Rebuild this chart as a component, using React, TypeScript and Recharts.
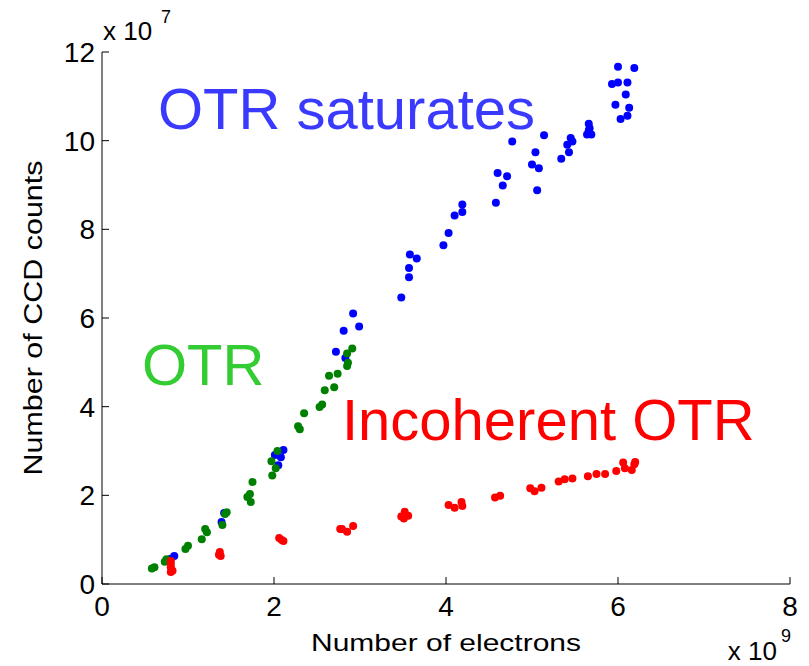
import { ReferenceDot, Scatter, ScatterChart, XAxis, YAxis } from "recharts";

// units: x in 1e9 electrons, y in 1e7 CCD counts
const BLUE: [number, number][] = [
  [0.8, 0.57], [0.84, 0.63], [1.39, 1.4], [1.42, 1.6], [2.01, 2.91], [2.05, 2.68],
  [2.08, 2.86], [2.11, 3.02], [2.72, 5.24], [2.83, 5.1], [2.81, 5.71], [2.92, 6.1],
  [2.99, 5.81], [3.48, 6.46], [3.57, 6.92], [3.57, 7.13], [3.58, 7.43], [3.66, 7.34],
  [3.97, 7.64], [4.03, 7.92], [4.1, 8.31], [4.19, 8.39], [4.19, 8.56], [4.58, 8.6],
  [4.6, 9.27], [4.66, 8.99], [4.71, 9.2], [4.77, 9.98], [5.0, 9.46], [5.04, 9.74],
  [5.08, 9.38], [5.06, 8.88], [5.14, 10.12], [5.34, 9.59], [5.43, 9.74], [5.41, 9.91],
  [5.45, 10.06], [5.47, 9.98], [5.64, 10.14], [5.66, 10.38], [5.67, 10.28], [5.69, 10.14],
  [5.66, 10.23], [5.93, 11.28], [6.0, 11.67], [6.0, 11.31], [6.11, 11.31], [6.19, 11.64],
  [5.97, 10.81], [6.09, 11.04], [6.13, 10.74], [6.03, 10.49], [6.11, 10.56],
];

const GREEN: [number, number][] = [
  [0.58, 0.35], [0.61, 0.38], [0.73, 0.5], [0.75, 0.56], [0.97, 0.79], [1.0, 0.86],
  [1.16, 1.01], [1.2, 1.24], [1.22, 1.17], [1.4, 1.33], [1.43, 1.58], [1.45, 1.62],
  [1.69, 1.96], [1.72, 2.03], [1.73, 1.85], [1.75, 2.3], [1.97, 2.77], [1.98, 2.45],
  [2.02, 2.61], [2.04, 3.0], [2.28, 3.56], [2.3, 3.49], [2.35, 3.85], [2.53, 3.99],
  [2.56, 4.05], [2.59, 4.37], [2.7, 4.44], [2.64, 4.7], [2.74, 4.74], [2.85, 4.92],
  [2.86, 4.99], [2.85, 5.2], [2.91, 5.31],
];

const RED: [number, number][] = [
  [0.8, 0.52], [0.8, 0.45], [0.8, 0.38], [0.8, 0.27], [0.82, 0.3], [1.37, 0.72],
  [1.38, 0.63], [1.36, 0.66], [2.06, 1.04], [2.11, 0.97], [2.09, 0.99], [2.77, 1.24],
  [2.79, 1.24], [2.85, 1.18], [2.92, 1.31], [3.48, 1.52], [3.52, 1.63], [3.56, 1.54],
  [3.51, 1.48], [4.03, 1.78], [4.1, 1.72], [4.18, 1.85], [4.19, 1.76], [4.57, 1.95],
  [4.63, 1.99], [4.98, 2.16], [5.03, 2.09], [5.11, 2.17], [5.31, 2.31], [5.38, 2.36],
  [5.47, 2.38], [5.65, 2.43], [5.75, 2.48], [5.85, 2.48], [5.98, 2.55], [6.06, 2.74],
  [6.08, 2.61], [6.16, 2.57], [6.19, 2.7], [6.2, 2.75],
];

const X_TICKS = [0, 2, 4, 6, 8];
const Y_TICKS = [0, 2, 4, 6, 8, 10, 12];

// text annotations, anchored at (x, y) data position = start of baseline
const ANNOTATIONS = [
  { text: "OTR saturates", x: 0.65, y: 10.26, color: "#3a3aff" },
  { text: "OTR", x: 0.465, y: 4.49, color: "#33cc33" },
  { text: "Incoherent OTR", x: 2.79, y: 3.25, color: "#ff0000" },
];

const FONT = "'Liberation Sans', Arial, Helvetica, sans-serif";
const TICK_LEN = 7;

const rows = (pts: [number, number][]) => pts.map(([x, y]) => ({ x, y }));

const dot = (color: string) => (props: any) => (
  <circle cx={props.cx} cy={props.cy} r={4} fill={color} />
);

function BottomTick({ x, y, payload }: any) {
  return (
    <g>
      <line x1={x} y1={y} x2={x} y2={y - TICK_LEN} stroke="#000" />
      <text x={x} y={y + 32} textAnchor="middle" fontSize={28} fontFamily={FONT} fill="#000">
        {payload.value}
      </text>
    </g>
  );
}

function TopTick({ x, y }: any) {
  return <line x1={x} y1={y} x2={x} y2={y + TICK_LEN} stroke="#000" />;
}

function LeftTick({ x, y, payload }: any) {
  return (
    <g>
      <line x1={x} y1={y} x2={x + TICK_LEN} y2={y} stroke="#000" />
      <text x={x - 7} y={y + 10} textAnchor="end" fontSize={28} fontFamily={FONT} fill="#000">
        {payload.value}
      </text>
    </g>
  );
}

function RightTick({ x, y }: any) {
  return <line x1={x} y1={y} x2={x - TICK_LEN} y2={y} stroke="#000" />;
}

function XLabel(props: any) {
  const { x, y, width } = props.viewBox;
  const right = x + width;
  return (
    <g fontFamily={FONT} fill="#000">
      <text x={x + width / 2} y={y + 67} textAnchor="middle" fontSize={24} textLength={270} lengthAdjust="spacingAndGlyphs">
        Number of electrons
      </text>
      <text x={right - 13} y={y + 76} textAnchor="end" fontSize={26}>x 10</text>
      <text x={right - 9} y={y + 58} fontSize={18}>9</text>
    </g>
  );
}

function YLabel(props: any) {
  const { x, y, height } = props.viewBox;
  const cx = x + 33;
  const cy = y + height / 2;
  return (
    <g fontFamily={FONT} fill="#000">
      <text
        x={cx}
        y={cy}
        transform={`rotate(-90 ${cx} ${cy})`}
        textAnchor="middle"
        dominantBaseline="central"
        fontSize={26}
        textLength={315}
        lengthAdjust="spacingAndGlyphs"
      >
        Number of CCD counts
      </text>
      <text x={x + 103} y={y - 12} fontSize={26}>x 10</text>
      <text x={x + 161} y={y - 29} fontSize={18}>7</text>
    </g>
  );
}

const annotationLabel = (a: { text: string; color: string }) => (props: any) => {
  const vb = props.viewBox;
  return (
    <text x={vb.x} y={vb.y} fill={a.color} fontSize={58} fontFamily={FONT}>
      {a.text}
    </text>
  );
};

export default function App() {
  return (
    <div style={{ position: "absolute", left: 0, top: 0, width: 809, height: 666, background: "#fff" }}>
      <ScatterChart width={809} height={666} margin={{ top: 52, right: 19, bottom: 0, left: 0 }}>
        <XAxis
          dataKey="x"
          type="number"
          domain={[0, 8]}
          ticks={X_TICKS}
          allowDataOverflow
          height={82}
          tickSize={0}
          tickMargin={0}
          tickLine={false}
          tick={BottomTick}
          axisLine={{ stroke: "#000" }}
          label={XLabel}
        />
        <XAxis
          xAxisId="top"
          orientation="top"
          type="number"
          domain={[0, 8]}
          ticks={X_TICKS}
          height={0}
          tickSize={0}
          tickMargin={0}
          tickLine={false}
          tick={TopTick}
          axisLine={{ stroke: "#000" }}
        />
        <YAxis
          dataKey="y"
          type="number"
          domain={[0, 12]}
          ticks={Y_TICKS}
          allowDataOverflow
          width={102}
          tickSize={0}
          tickMargin={0}
          tickLine={false}
          tick={LeftTick}
          axisLine={{ stroke: "#000" }}
          label={YLabel}
        />
        <YAxis
          yAxisId="right"
          orientation="right"
          type="number"
          domain={[0, 12]}
          ticks={Y_TICKS}
          width={0}
          tickSize={0}
          tickMargin={0}
          tickLine={false}
          tick={RightTick}
          axisLine={{ stroke: "#000" }}
        />
        <Scatter data={rows(BLUE)} fill="#0000ff" shape={dot("#0000ff")} isAnimationActive={false} />
        <Scatter data={rows(GREEN)} fill="#008000" shape={dot("#008000")} isAnimationActive={false} />
        <Scatter data={rows(RED)} fill="#ff0000" shape={dot("#ff0000")} isAnimationActive={false} />
        {ANNOTATIONS.map((a) => (
          <ReferenceDot
            key={a.text}
            x={a.x}
            y={a.y}
            r={0}
            fill="none"
            stroke="none"
            ifOverflow="visible"
            label={annotationLabel(a)}
          />
        ))}
      </ScatterChart>
    </div>
  );
}
